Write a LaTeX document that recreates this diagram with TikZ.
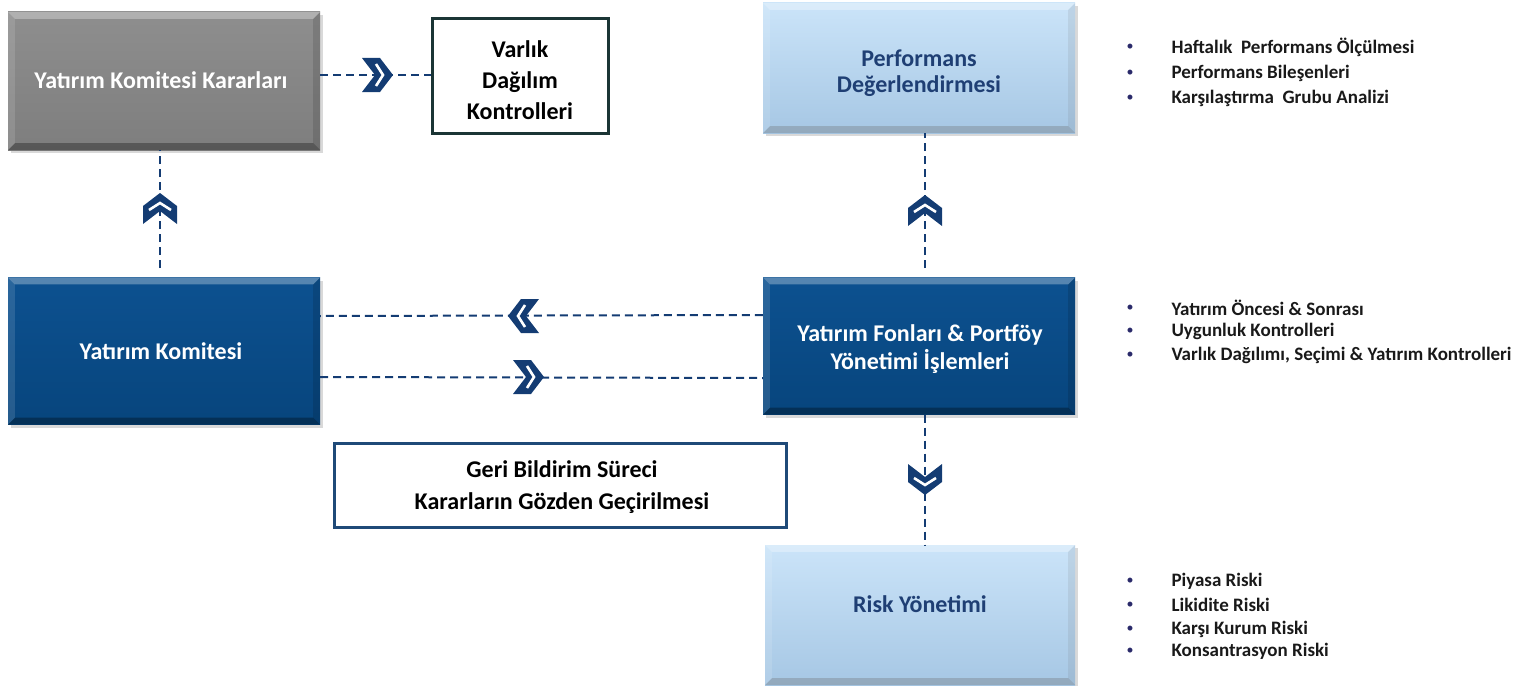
\documentclass[tikz,border=0pt]{standalone}
\usepackage{fontspec}
\setmainfont{Carlito}
\usetikzlibrary{calc,shadows}
\definecolor{dkA}{HTML}{0D5190}
\definecolor{dkB}{HTML}{07457D}
\definecolor{ltA}{HTML}{CBE4F9}
\definecolor{ltB}{HTML}{A6C7E4}
\definecolor{grA}{HTML}{8E8E8E}
\definecolor{grB}{HTML}{7E7E7E}
\definecolor{chevblue}{HTML}{143C73}
\definecolor{perftext}{HTML}{1F3F74}
\definecolor{tealborder}{HTML}{1B3535}
\definecolor{navyborder}{HTML}{1F4A78}
\definecolor{bulletblue}{HTML}{2A2A6A}
\tikzset{
  boxbase/.style={rectangle, inner sep=0pt, align=center,
    drop shadow={opacity=0.3, shadow xshift=3pt, shadow yshift=-3pt}},
  darkbox/.style={boxbase, top color=dkA, bottom color=dkB},
  lightbox/.style={boxbase, top color=ltA, bottom color=ltB},
  graybox/.style={boxbase, top color=grA, bottom color=grB},
  framebox/.style={rectangle, inner sep=0pt, fill=white, line width=3pt},
  titletext/.style={align=center, font=\bfseries\fontsize{24}{29}\selectfont},
  dashline/.style={draw=chevblue, line width=2pt, dash pattern=on 8pt off 5pt},
  bul/.style={text=bulletblue, font=\fontsize{14}{16}\selectfont},
  itemtext/.style={anchor=west, text=black!90, font=\bfseries\fontsize{19}{22}\selectfont},
  chev/.pic={
    \fill[chevblue] (-14,-17) -- (4,-17) -- (17,0) -- (4,17) -- (-14,17) -- (-1,0) -- cycle;
    \draw[white, line width=2.6pt] (0,-11) -- (7,0) -- (0,11);
  }
}
\newcommand{\bevelbox}[3]{%
  \fill[#2, opacity=0.3] (#1.north west) -- (#1.north east) -- ($(#1.north east)+(-7,7)$) -- ($(#1.north west)+(7,7)$) -- cycle;
  \fill[#3, opacity=0.3] (#1.south west) -- (#1.south east) -- ($(#1.south east)+(-7,-7)$) -- ($(#1.south west)+(7,-7)$) -- cycle;
  \fill[#2, opacity=0.12] (#1.north west) -- ($(#1.north west)+(7,7)$) -- ($(#1.south west)+(7,-7)$) -- (#1.south west) -- cycle;
  \fill[#3, opacity=0.12] (#1.north east) -- ($(#1.north east)+(-7,7)$) -- ($(#1.south east)+(-7,-7)$) -- (#1.south east) -- cycle;
}
\begin{document}
\begin{tikzpicture}[x=1pt, y=-1pt]
\useasboundingbox (0,0) rectangle (1514,685);

% boxes
\node[graybox, minimum width=312pt, minimum height=138pt] (ykk) at (164,81) {};
\bevelbox{ykk}{white}{black}
\node[titletext, text=white] (ykkt) at (161,80) {Yatırım Komitesi Kararları};

\node[framebox, draw=tealborder, minimum width=176pt, minimum height=114pt] (vdk) at (520,76) {};
\node[titletext, font=\bfseries\fontsize{24}{31}\selectfont] (vdkt) at (520,80) {Varlık\\Dağılım\\Kontrolleri};

\node[lightbox, minimum width=312pt, minimum height=130pt] (perf) at (919,68) {};
\bevelbox{perf}{white}{black!60}
\node[titletext, text=perftext, font=\bfseries\fontsize{24}{26}\selectfont] (perft) at (919,73) {Performans\\Değerlendirmesi};

\node[darkbox, minimum width=312pt, minimum height=147pt] (yk) at (164,351) {};
\bevelbox{yk}{white}{black}
\node[titletext, text=white] (ykt) at (161,351) {Yatırım Komitesi};

\node[darkbox, minimum width=312pt, minimum height=137pt] (yf) at (919,346) {};
\bevelbox{yf}{white}{black}
\node[titletext, text=white, font=\bfseries\fontsize{24}{28}\selectfont] (yft) at (920,349) {Yatırım Fonları \& Portföy\\Yönetimi İşlemleri};

\node[framebox, draw=navyborder, minimum width=452pt, minimum height=84pt] (geri) at (560,485) {};
\node[titletext, font=\bfseries\fontsize{24}{32}\selectfont] (gerit) at (562,487) {Geri Bildirim Süreci\\Kararların Gözden Geçirilmesi};

\node[lightbox, minimum width=310pt, minimum height=140pt] (risk) at (920,615) {};
\bevelbox{risk}{white}{black!60}
\node[titletext, text=perftext] (riskt) at (920,604) {Risk Yönetimi};

% connectors
\draw[dashline] (ykk.east |- 0,75) -- (vdk.west |- 0,75);
\pic at (376,75) {chev};

\draw[dashline] (160,268) -- (ykk.south -| 160,0);
\pic[rotate=90] at (160,210) {chev};

\draw[dashline] (925,268) -- (perf.south -| 925,0);
\pic[rotate=90] at (925,212) {chev};

\draw[dashline] (yf.west |- 0,315) -- (yk.east |- 0,316);
\pic[rotate=180] at (525,316) {chev};

\draw[dashline] (yk.east |- 0,377) -- (yf.west |- 0,378);
\pic at (527,377) {chev};

\draw[dashline] (yf.south -| 925,0) -- (risk.north -| 925,0);
\pic[rotate=-90] at (925,478) {chev};

% bullet lists
\foreach \y/\t [count=\i] in {47/{Haftalık~ Performans Ölçülmesi}, 73/{Performans Bileşenleri}, 98/{Karşılaştırma~ Grubu Analizi}}{
  \node[bul] (pb\i) at (1130,\y) {•};
  \node[itemtext] (pt\i) at (1168,\y) {\t};
}
\foreach \y/\t [count=\i] in {308/{Yatırım Öncesi \& Sonrası}, 331/{Uygunluk Kontrolleri}, 355/{Varlık Dağılımı, Seçimi \& Yatırım Kontrolleri}}{
  \node[bul] (fb\i) at (1130,\y) {•};
  \node[itemtext] (ft\i) at (1168,\y) {\t};
}
\foreach \y/\t [count=\i] in {581/{Piyasa Riski}, 605/{Likidite Riski}, 629/{Karşı Kurum Riski}, 651/{Konsantrasyon Riski}}{
  \node[bul] (rb\i) at (1130,\y) {•};
  \node[itemtext] (rt\i) at (1168,\y) {\t};
}
\end{tikzpicture}
\end{document}
